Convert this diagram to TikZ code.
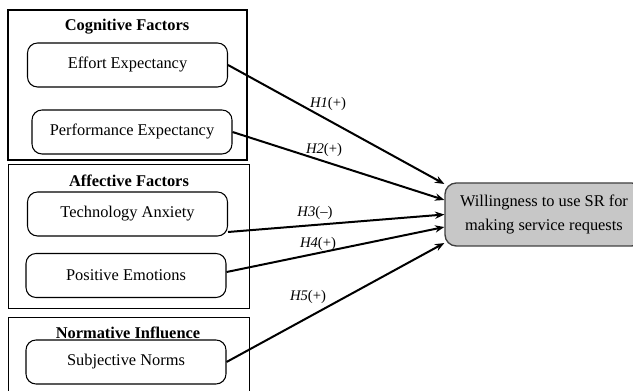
\documentclass[tikz,border=0pt]{standalone}
\usepackage{fontspec}
\setmainfont{Liberation Serif}
\usetikzlibrary{arrows.meta}

\begin{document}
\begin{tikzpicture}[x=0.75pt, y=-0.75pt,
  groupbox/.style={draw, inner sep=0pt, minimum width=180pt},
  grouptitle/.style={font=\fontsize{12.3}{15}\selectfont\bfseries, inner sep=1pt},
  factor/.style={draw, rounded corners=7.5pt, line width=0.8pt, minimum width=150pt,
    minimum height=33pt, font=\fontsize{12.3}{15}\selectfont},
  outcome/.style={draw=black!75, fill=black!22, rounded corners=8.5pt, line width=1pt,
    minimum width=148.5pt, minimum height=47.25pt, align=center,
    font=\fontsize{12.3}{18}\selectfont},
  arrow/.style={-{Stealth[length=7pt, width=5.5pt]}, line width=1.5pt},
  hyp/.style={font=\fontsize{11}{13}\selectfont, inner sep=1pt}
]
\clip (0,0) rectangle (633,391);
\fill[white] (0,0) rectangle (633,391);

% Group frames
\node[groupbox, line width=1.7pt, minimum width=179.25pt, minimum height=112.5pt] (cog) at (127.5,85) {};
\node[groupbox, line width=0.7pt, minimum width=180.75pt, minimum height=108pt] (aff) at (128.5,236) {};
\node[groupbox, line width=0.7pt, minimum width=180.75pt, minimum height=66pt] (nor) at (128.5,361) {};

\node[grouptitle] (cogT) at (127,27) {Cognitive Factors};
\node[grouptitle] (affT) at (129,181) {Affective Factors};
\node[grouptitle] (norT) at (128,333) {Normative Influence};

% Constructs
\node[factor] (ee) at (127.5,65) {Effort Expectancy};
\node[factor] (pe) at (132,132) {Performance Expectancy};
\node[factor] (ta) at (127.5,214) {Technology Anxiety};
\node[factor] (pem) at (126,275.5) {Positive Emotions};
\node[factor] (sn) at (126,362) {Subjective Norms};

\node[outcome] (wil) at (544,214.5) {Willingness to use SR for\\making service requests};

% Paths
\draw[arrow] (ee.east) -- ([yshift=22.9pt]wil.west);
\draw[arrow] (pe.east) -- ([yshift=10.9pt]wil.west);
\draw[arrow] ([yshift=-13.5pt]ta.east) -- (wil.west);
\draw[arrow] ([yshift=2.6pt]pem.east) -- ([yshift=-9.4pt]wil.west);
\draw[arrow] (sn.east) -- ([yshift=-21.4pt]wil.west);

\node[hyp] (h1) at (328,104) {\textit{H1}(+)};
\node[hyp] (h2) at (324,150) {\textit{H2}(+)};
\node[hyp] (h3) at (315,213) {\textit{H3}(–)};
\node[hyp] (h4) at (318,244) {\textit{H4}(+)};
\node[hyp] (h5) at (308,297) {\textit{H5}(+)};
\end{tikzpicture}
\end{document}
